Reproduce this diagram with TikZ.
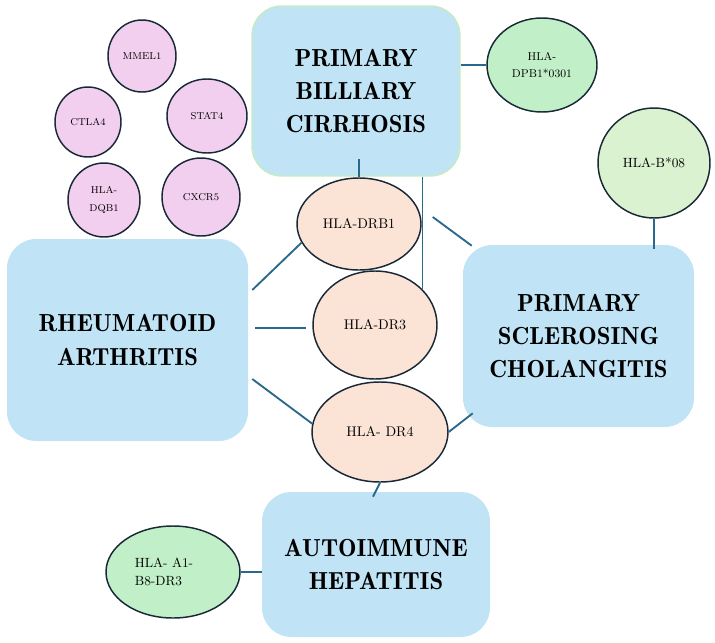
\documentclass[tikz,border=0pt]{standalone}
\usepackage{fontspec}
\newfontfamily\boxfont{lmromandemi10-regular.otf}
\usetikzlibrary{shapes.geometric,calc}
\definecolor{boxblue}{RGB}{192,228,245}
\definecolor{pbcborder}{RGB}{200,236,190}
\definecolor{peach}{RGB}{251,227,214}
\definecolor{pinkc}{RGB}{242,207,238}
\definecolor{greena}{RGB}{193,240,200}
\definecolor{greenb}{RGB}{218,242,208}
\definecolor{outl}{RGB}{25,40,55}
\definecolor{connc}{RGB}{40,105,140}
\begin{document}
\begin{tikzpicture}[x=0.75pt,y=-0.75pt,
  box/.style n args={2}{fill=boxblue, rounded corners=22pt, minimum width=#1*0.75pt, minimum height=#2*0.75pt, inner sep=0pt, align=center, font=\boxfont\fontsize{18.5}{25}\selectfont},
  ell/.style n args={2}{ellipse, draw=outl, line width=1.1pt, minimum width=#1*1.5pt, minimum height=#2*1.5pt, inner sep=0pt, align=center},
  conn/.style={draw=connc, line width=1.4pt},
  big/.style={font=\fontsize{10.5}{13}\selectfont},
  small/.style={font=\fontsize{7.5}{13}\selectfont},
]
\useasboundingbox (0,0) rectangle (715,643);

% disease boxes
\node[box={208}{170}, draw=pbcborder, line width=1pt] (PBC) at (356,91) {PRIMARY\\BILLIARY\\CIRRHOSIS};
\node[box={241}{202}] (RA) at (127.5,340) {RHEUMATOID\\ARTHRITIS};
\node[box={231}{182}] (PSC) at (578.5,336) {PRIMARY\\SCLEROSING\\CHOLANGITIS};
\node[box={228}{145}] (AIH) at (376,564.5) {AUTOIMMUNE\\HEPATITIS};

% HLA ellipses (peach)
\node[ell={62}{46}, fill=peach, big] (DRB1) at (359,224) {HLA-DRB1};
\node[ell={62}{54}, fill=peach, big] (DR3) at (375,325) {HLA-DR3};
\node[ell={68}{50}, fill=peach, big] (DR4) at (380,432) {HLA- DR4};

% green ellipses
\node[ell={55}{47}, fill=greena, font=\fontsize{8.5}{12.5}\selectfont] (DPB1) at (542,65) {HLA-\\DPB1*0301};
\node[ell={56}{55}, fill=greenb, font=\fontsize{10}{13}\selectfont] (B08) at (654,163) {HLA-B*08};
\node[ell={67}{46}, fill=greena] (A1B8) at (173,572) {};
\node[align=left, font=\fontsize{10}{14}\selectfont] (A1B8t) at (164,572) {HLA- A1-\\B8-DR3};

% pink gene circles
\node[ell={34}{36}, fill=pinkc, small] (MMEL1) at (142,56) {MMEL1};
\node[ell={33}{35}, fill=pinkc, small] (CTLA4) at (88,122) {CTLA4};
\node[ell={40}{37}, fill=pinkc, small] (STAT4) at (207,116) {STAT4};
\node[ell={36}{37}, fill=pinkc, small] (DQB1) at (104,200) {HLA-\\DQB1};
\node[ell={39}{39}, fill=pinkc, small] (CXCR5) at (201,197) {CXCR5};

% connectors
\draw[conn] (PBC.east |- DPB1.west) -- (DPB1.west);
\draw[conn] (DRB1.north) -- ++(0,-18);
\draw[conn] (DR3.37 |- PBC.south) -- (DR3.37);
\draw[conn] ($(DRB1.east)+(11,-7)$) -- ($(PSC.north west)+(9,1)$);
\draw[conn] ($(RA.east)+(4,-50)$) -- (DRB1.198);
\draw[conn] ($(RA.east)+(7,-12)$) -- ($(DR3.west)+(-6,3)$);
\draw[conn] ($(RA.east)+(4,39)$) -- (DR4.173);
\draw[conn] (DR4.east) -- ($(PSC.south west)+(10,-14)$);
\draw[conn] (DR4.south) -- ($(AIH.north)+(-3,5)$);
\draw[conn] (A1B8.east) -- (AIH.west |- A1B8.east);
\draw[conn] (B08.south) -- ($(B08.south |- PSC.north)+(0,4)$);
\end{tikzpicture}
\end{document}
